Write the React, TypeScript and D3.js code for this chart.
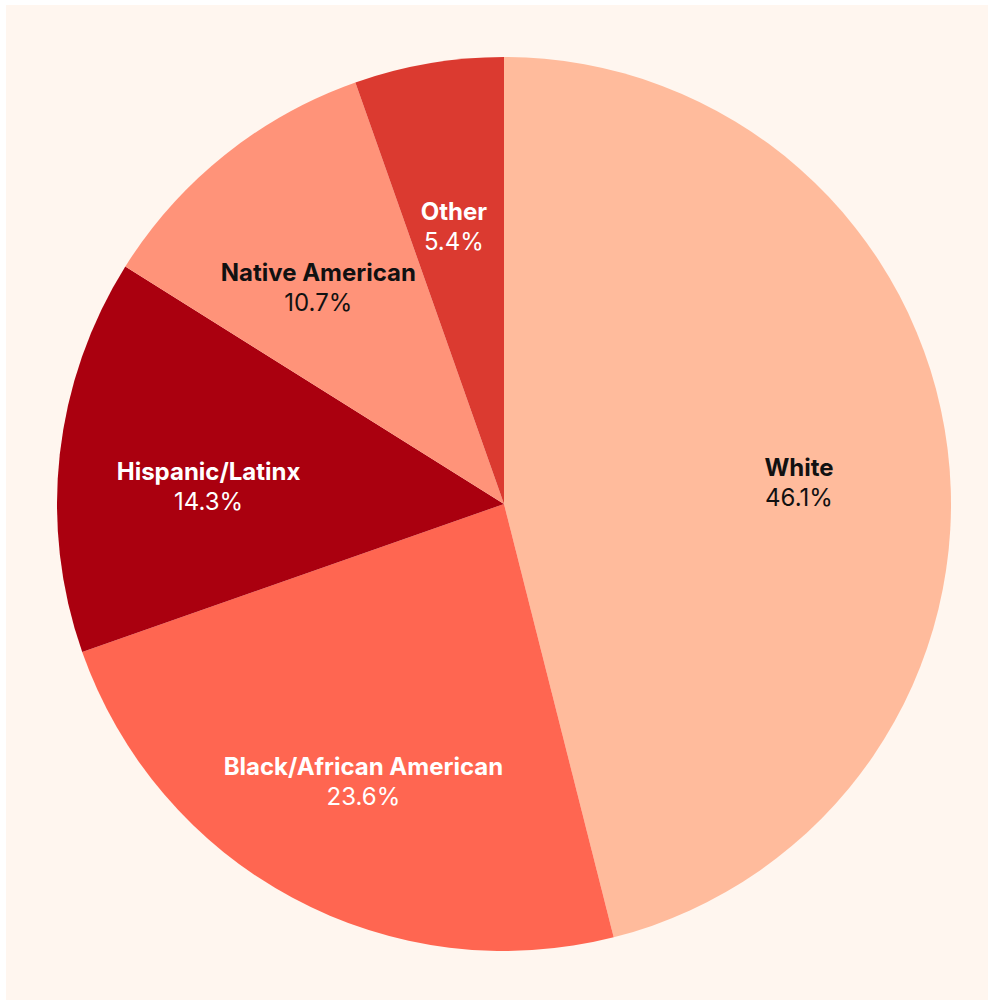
import { useEffect, useRef } from "react";
import * as d3 from "d3";

const categories = ["White", "Black/African American", "Hispanic/Latinx", "Native American", "Other"];
const shares = [46.1, 23.6, 14.3, 10.7, 5.4];
const colors = ["#ffbb9c", "#ff6651", "#aa000f", "#ff9379", "#db3a30"];
const labelColors = ["#111111", "#ffffff", "#ffffff", "#111111", "#ffffff"];

export default function App() {
  const ref = useRef<SVGSVGElement>(null);

  useEffect(() => {
    if (!ref.current) return;
    const w = 996;
    const h = 998;
    const cx = 498;
    const cy = 499;
    const r = 447;

    const data = categories.map((c, i) => ({ name: c, value: shares[i], color: colors[i], text: labelColors[i] }));

    const svg = d3.select(ref.current);
    svg.selectAll("*").remove();
    svg.attr("width", w).attr("height", h).attr("viewBox", `0 0 ${w} ${h}`);

    svg.append("rect").attr("width", w).attr("height", h).attr("fill", "#fff6ef");

    const pie = d3
      .pie<(typeof data)[number]>()
      .value((d) => d.value)
      .sort(null);
    const arcs = pie(data);
    const arc = d3.arc<d3.PieArcDatum<(typeof data)[number]>>().innerRadius(0).outerRadius(r);
    const labelArc = d3
      .arc<d3.PieArcDatum<(typeof data)[number]>>()
      .innerRadius(r * 0.665)
      .outerRadius(r * 0.665);

    const g = svg.append("g").attr("transform", `translate(${cx},${cy})`);

    g.selectAll("path")
      .data(arcs)
      .join("path")
      .attr("d", arc)
      .attr("fill", (d) => d.data.color);

    const labels = g
      .selectAll(".label")
      .data(arcs)
      .join("text")
      .attr("class", "label")
      .attr("text-anchor", "middle")
      .attr("font-family", "Inter, 'Noto Sans', sans-serif")
      .attr("font-size", 24)
      .attr("fill", (d) => d.data.text)
      .attr("transform", (d) => {
        const [x, y] = labelArc.centroid(d);
        return `translate(${x},${y})`;
      });

    labels
      .append("tspan")
      .attr("x", 0)
      .attr("y", 9)
      .attr("font-weight", 700)
      .text((d) => d.data.name);
    labels
      .append("tspan")
      .attr("x", 0)
      .attr("y", 39)
      .attr("font-weight", 400)
      .text((d) => `${d.data.value.toFixed(1)}%`);
  }, []);

  return (
    <div style={{ position: "absolute", left: 6, top: 5 }}>
      <svg ref={ref} style={{ display: "block" }} />
    </div>
  );
}
